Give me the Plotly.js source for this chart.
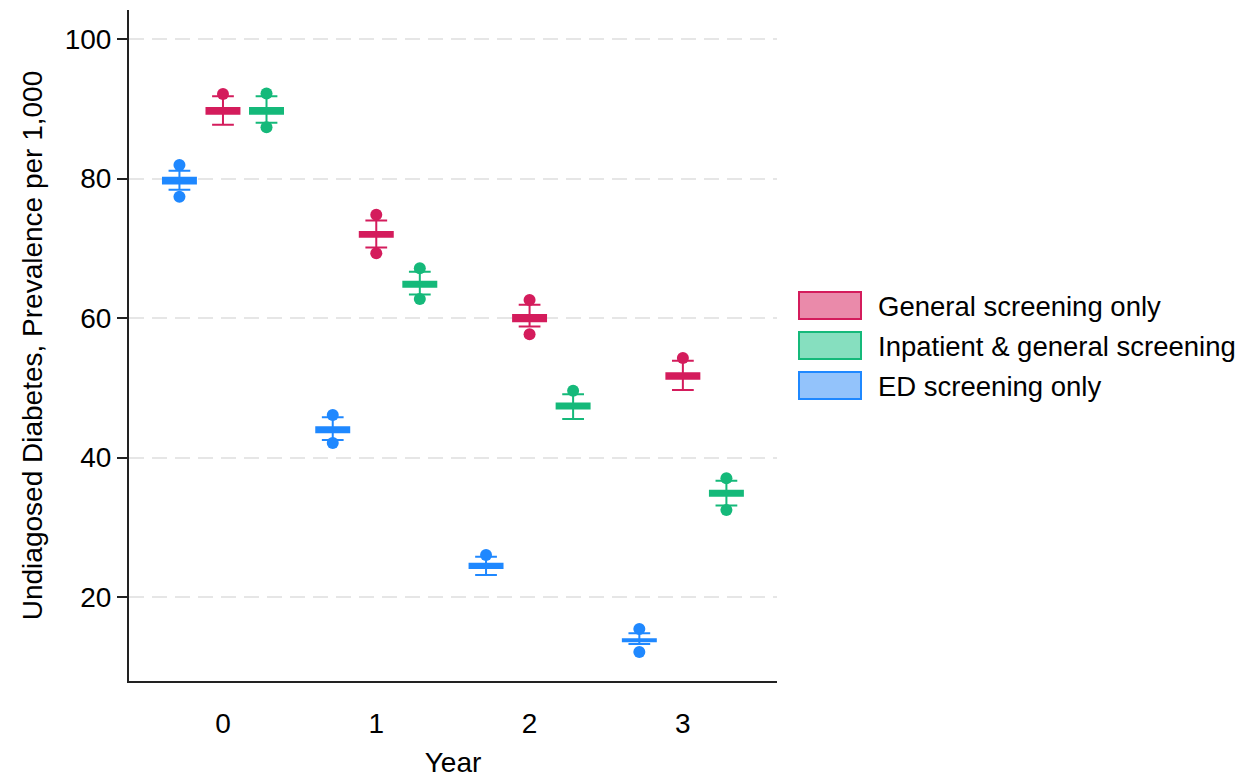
<!DOCTYPE html>
<html>
<head>
<meta charset="utf-8">
<script src="https://cdn.plot.ly/plotly-3.0.1.min.js"></script>
<style>html,body{margin:0;padding:0;background:#fff;}#chart{width:1240px;height:778px;}</style>
</head>
<body>
<div id="chart"></div>
<script>
// ---- Data ----
const years = [0, 1, 2, 3];
const seriesNames = ["General screening only", "Inpatient & general screening", "ED screening only"];

const genUpperOut   = [92.1, 74.8, 62.6, 54.3];
const genUpperFence = [91.8, 74.0, 61.9, 53.9];
const genQ3         = [90.1, 72.35, 60.45, 52.1];
const genMedian     = [89.7, 72.0, 60.0, 51.7];
const genQ1         = [89.3, 71.65, 59.55, 51.3];
const genLowerFence = [87.7, 70.1, 58.8, 49.7];
const genLowerOut   = [null, 69.3, 57.7, null];

const inpUpperOut   = [92.2, 67.15, 49.6, 37.05];
const inpUpperFence = [91.8, 66.65, 49.1, 36.7];
const inpQ3         = [90.1, 65.2, 47.75, 35.25];
const inpMedian     = [89.7, 64.85, 47.4, 34.9];
const inpQ1         = [89.3, 64.5, 47.05, 34.55];
const inpLowerFence = [88.0, 63.4, 45.55, 33.15];
const inpLowerOut   = [87.35, 62.75, null, 32.5];

const edUpperOut   = [81.95, 46.1, 26.05, 15.45];
const edUpperFence = [81.1, 45.8, 25.8, 14.85];
const edQ3         = [80.1, 44.35, 24.8, 14.0];
const edMedian     = [79.7, 44.0, 24.5, 13.85];
const edQ1         = [79.3, 43.65, 24.2, 13.7];
const edLowerFence = [78.4, 42.55, 23.2, 13.3];
const edLowerOut   = [77.4, 42.1, null, 12.15];

const yTicks = [20, 40, 60, 80, 100];

// ---- Styles ----
const colors = ["#D41C5C", "#15B97A", "#1F88FF"];
const legendFills = ["#EA8AAA", "#86DFBF", "#93C3FB"];
const offsets = [0, 0.284, -0.284];
const FONT = "Liberation Sans, Arial, Helvetica, sans-serif";

const groups = [
  {q1: genQ1, med: genMedian, q3: genQ3, lf: genLowerFence, uf: genUpperFence, lo: genLowerOut, uo: genUpperOut},
  {q1: inpQ1, med: inpMedian, q3: inpQ3, lf: inpLowerFence, uf: inpUpperFence, lo: inpLowerOut, uo: inpUpperOut},
  {q1: edQ1, med: edMedian, q3: edQ3, lf: edLowerFence, uf: edUpperFence, lo: edLowerOut, uo: edUpperOut}
];

const traces = [];
groups.forEach((g, i) => {
  const xs = years.map(y => y + offsets[i]);
  traces.push({
    type: "box", name: seriesNames[i], x: xs,
    q1: g.q1, median: g.med, q3: g.q3, lowerfence: g.lf, upperfence: g.uf,
    width: 0.215, whiskerwidth: 0.66,
    line: {color: colors[i], width: 2}, fillcolor: colors[i],
    boxpoints: false, showlegend: false, hoverinfo: "skip"
  });
  traces.push({
    type: "scatter", mode: "markers", x: xs.concat(xs), y: g.uo.concat(g.lo),
    marker: {color: colors[i], size: 12}, showlegend: false, hoverinfo: "skip"
  });
});

// ---- Layout ----
const W = 1240, H = 778, ML = 129, MR = 463, MT = 10, MB = 97;
const pw = W - ML - MR, ph = H - MT - MB;
const px = x => (x - ML) / pw;
const py = y => 1 - (y - MT) / ph;

const shapes = [], annotations = [];
const legTops = [292, 332, 372];
seriesNames.forEach((n, i) => {
  shapes.push({type: "rect", xref: "paper", yref: "paper",
    x0: px(799), x1: px(861), y0: py(legTops[i]), y1: py(legTops[i] + 27),
    line: {color: colors[i], width: 2}, fillcolor: legendFills[i]});
  annotations.push({xref: "paper", yref: "paper", x: px(876), y: py(legTops[i] + 14),
    xanchor: "left", yanchor: "middle", showarrow: false, text: n,
    font: {family: FONT, size: 27.5, color: "#000"}});
});

const layout = {
  width: W, height: H,
  margin: {l: ML, r: MR, t: MT, b: MB},
  paper_bgcolor: "#fff", plot_bgcolor: "#fff",
  font: {family: FONT, size: 28, color: "#000"},
  showlegend: false, boxmode: "overlay",
  xaxis: {
    range: [-0.613, 3.614], tickmode: "array", tickvals: years, ticktext: years.map(String),
    showgrid: false, zeroline: false, showline: true, linecolor: "#222", linewidth: 2,
    ticks: "", ticklabelstandoff: 16, tickfont: {family: FONT, size: 28, color: "#000"},
    title: {text: "Year", font: {family: FONT, size: 28, color: "#000"}, standoff: 18}
  },
  yaxis: {
    range: [8.0, 104.15], tickmode: "array", tickvals: yTicks, ticktext: yTicks.map(String),
    showgrid: true, gridcolor: "#E6E6E6", gridwidth: 2, griddash: "15px,8px",
    zeroline: false, showline: true, linecolor: "#222", linewidth: 2,
    ticks: "outside", ticklen: 10, tickwidth: 2, tickcolor: "#222",
    tickfont: {family: FONT, size: 28, color: "#000"},
    title: {text: "Undiagosed Diabetes, Prevalence per 1,000", font: {family: FONT, size: 28, color: "#000"}, standoff: 14}
  },
  shapes: shapes, annotations: annotations
};

Plotly.newPlot("chart", traces, layout, {displayModeBar: false, staticPlot: true});
</script>
</body>
</html>
